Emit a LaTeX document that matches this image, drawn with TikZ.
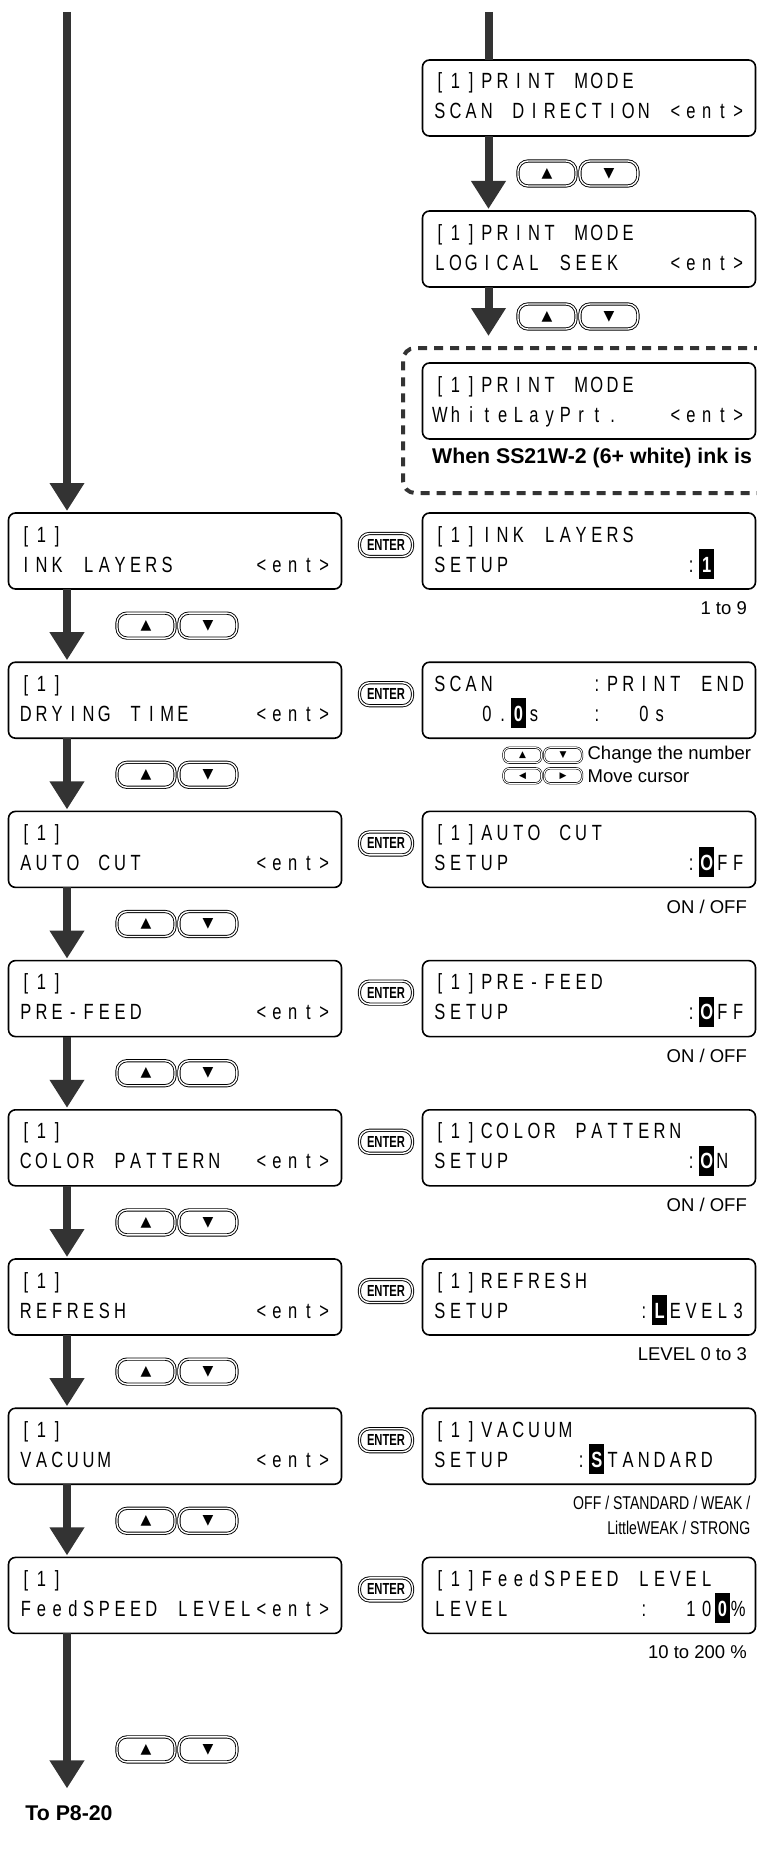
\documentclass[tikz,border=0pt]{standalone}
\usepackage{fontspec}
\setmainfont{Liberation Sans}
\newfontfamily\lcdfont[FakeStretch=0.75]{Liberation Sans}
\newfontfamily\keyfont[FakeStretch=0.7]{Liberation Sans}
\newfontfamily\narrowfont[FakeStretch=0.76]{Liberation Sans}
\newfontfamily\symfont{DejaVu Sans}
\usetikzlibrary{positioning,arrows.meta,fit,calc}

% one LCD character cell, and a cell with the cursor on it
\newlength\lcdw
\setlength\lcdw{15.7pt}
\newcommand\lcdcell[1]{\makebox[\lcdw][c]{#1}}
\newcommand\lcdhl[1]{\makebox[\lcdw][c]{\smash{\makebox[0pt]{\rule[-7pt]{15pt}{30pt}}}\makebox[0pt]{\color{white}\bfseries#1}}}
% a run of cells, _ is an empty cell
\ExplSyntaxOn
\NewDocumentCommand\lcd{m}
  {
    \strut
    \str_map_inline:nn {#1}
      { \str_if_eq:nnTF {##1} {_} { \lcdcell{} } { \lcdcell{##1} } }
  }
\ExplSyntaxOff

\begin{document}
\begin{tikzpicture}[
    x=1pt, y=1pt,
    node distance=73.2pt and 81pt,
    lcdbox/.style={
        draw,
        rounded corners=7pt,
        line width=1.6pt,
        outer sep=0pt,
        minimum width=333pt,
        minimum height=76pt,
        text width=314pt,
        inner sep=0pt,
        align=left,
        font=\lcdfont\fontsize{22}{30}\selectfont
    },
    flow/.style={
        draw=black!80,
        line width=8pt,
        -{Triangle[width=33pt,length=28pt]},
        shorten >=2pt
    },
    updown/.style={
        draw,
        double,
        double distance=1.4pt,
        line width=0.9pt,
        rounded corners=10pt,
        minimum width=58pt,
        minimum height=25pt,
        inner sep=0pt,
        font=\symfont\fontsize{14}{14}\selectfont
    },
    smallkey/.style={
        updown,
        double distance=1pt,
        line width=0.6pt,
        rounded corners=6pt,
        minimum width=38pt,
        minimum height=15pt,
        font=\symfont\fontsize{9}{9}\selectfont
    },
    enterkey/.style={
        updown,
        minimum width=53pt,
        minimum height=23pt,
        font=\keyfont\bfseries\fontsize{16}{16}\selectfont
    },
    note/.style={
        inner sep=0pt,
        align=right,
        font=\fontsize{18.5}{25}\selectfont
    },
    warn/.style={
        inner sep=0pt,
        font=\bfseries\fontsize{21.3}{24}\selectfont
    },
    whiteframe/.style={
        draw=black!80,
        line width=4pt,
        dash pattern=on 9pt off 7pt,
        rounded corners=12pt
    }
]
    \useasboundingbox (0,0) rectangle (757,-1854);
    \clip (0,0) rectangle (757,-1854);

    % --- Left Column: Menu Items ---
    \node [lcdbox] (ink) at (175,-551) {\lcd{[1]}\\\lcd{INK LAYERS_____<ent>}};
    \node [lcdbox, below=of ink] (dry) {\lcd{[1]}\\\lcd{DRYING TIME____<ent>}};
    \node [lcdbox, below=of dry] (cut) {\lcd{[1]}\\\lcd{AUTO CUT_______<ent>}};
    \node [lcdbox, below=of cut] (prefeed) {\lcd{[1]}\\\lcd{PRE-FEED_______<ent>}};
    \node [lcdbox, below=of prefeed] (color) {\lcd{[1]}\\\lcd{COLOR PATTERN__<ent>}};
    \node [lcdbox, below=of color] (refresh) {\lcd{[1]}\\\lcd{REFRESH________<ent>}};
    \node [lcdbox, below=of refresh] (vacuum) {\lcd{[1]}\\\lcd{VACUUM_________<ent>}};
    \node [lcdbox, below=of vacuum] (speed) {\lcd{[1]}\\\lcd{FeedSPEED LEVEL<ent>}};

    % --- Right Column: Print Mode Items ---
    \node [lcdbox, right=of ink] (inkset) {\lcd{[1]INK LAYERS}\\\lcd{SETUP___________:}\lcdhl{1}};
    \node [lcdbox, above=74pt of inkset] (pmwhite) {\lcd{[1]PRINT MODE}\\\lcd{WhiteLayPrt.___<ent>}};
    \node [lcdbox, above=76pt of pmwhite] (pmseek) {\lcd{[1]PRINT MODE}\\\lcd{LOGICAL SEEK___<ent>}};
    \node [lcdbox, above=75pt of pmseek] (pmscan) {\lcd{[1]PRINT MODE}\\\lcd{SCAN DIRECTION <ent>}};

    % --- Right Column: Setup Screens ---
    \node [lcdbox, right=of dry] (dryset) {\lcd{SCAN______:PRINT END}\\\lcd{___0.}\lcdhl{0}\lcd{s___:__0s}};
    \node [lcdbox, right=of cut] (cutset) {\lcd{[1]AUTO CUT}\\\lcd{SETUP___________:}\lcdhl{O}\lcd{FF}};
    \node [lcdbox, right=of prefeed] (prefeedset) {\lcd{[1]PRE-FEED}\\\lcd{SETUP___________:}\lcdhl{O}\lcd{FF}};
    \node [lcdbox, right=of color] (colorset) {\lcd{[1]COLOR PATTERN}\\\lcd{SETUP___________:}\lcdhl{O}\lcd{N}};
    \node [lcdbox, right=of refresh] (refreshset) {\lcd{[1]REFRESH}\\\lcd{SETUP________:}\lcdhl{L}\lcd{EVEL3}};
    \node [lcdbox, right=of vacuum] (vacuumset) {\lcd{[1]VACUUM}\\\lcd{SETUP____:}\lcdhl{S}\lcd{TANDARD}};
    \node [lcdbox, right=of speed] (speedset) {\lcd{[1]FeedSPEED LEVEL}\\\lcd{LEVEL________:__10}\lcdhl{0}\lcdcell{\%}};

    % White ink only
    \coordinate [below=39pt of pmwhite.south] (wbot);
    \node [whiteframe, fit=(pmwhite)(wbot), inner xsep=19.5pt, inner ysep=15pt] (wframe) {};
    \node [warn, anchor=base west] (wnote) at ([shift={(9.5pt,-24pt)}]pmwhite.south west) {When SS21W-2 (6+ white) ink is};

    % --- ENTER Keys ---
    \node [enterkey, xshift=4pt, yshift=6pt] (ent1) at ($(ink.east)!.5!(inkset.west)$) {ENTER};
    \node [enterkey, xshift=4pt, yshift=6pt] (ent2) at ($(dry.east)!.5!(dryset.west)$) {ENTER};
    \node [enterkey, xshift=4pt, yshift=6pt] (ent3) at ($(cut.east)!.5!(cutset.west)$) {ENTER};
    \node [enterkey, xshift=4pt, yshift=6pt] (ent4) at ($(prefeed.east)!.5!(prefeedset.west)$) {ENTER};
    \node [enterkey, xshift=4pt, yshift=6pt] (ent5) at ($(color.east)!.5!(colorset.west)$) {ENTER};
    \node [enterkey, xshift=4pt, yshift=6pt] (ent6) at ($(refresh.east)!.5!(refreshset.west)$) {ENTER};
    \node [enterkey, xshift=4pt, yshift=6pt] (ent7) at ($(vacuum.east)!.5!(vacuumset.west)$) {ENTER};
    \node [enterkey, xshift=4pt, yshift=6pt] (ent8) at ($(speed.east)!.5!(speedset.west)$) {ENTER};

    % --- Value Ranges ---
    \node [note, anchor=north east] (inknote) at ([shift={(-8.5pt,-12pt)}]inkset.south east) {1 to 9};
    \node [smallkey] (chup) at ([shift={(100pt,-17pt)}]dryset.south west) {▲};
    \node [smallkey, right=2pt of chup] (chdown) {▼};
    \node [note, right=5pt of chdown] (chtext) {Change the number};
    \node [smallkey, below=5pt of chup] (mvleft) {◀};
    \node [smallkey, right=2pt of mvleft] (mvright) {▶};
    \node [note, right=5pt of mvright] (mvtext) {Move cursor};
    \node [note, anchor=north east] (cutnote) at ([shift={(-8.5pt,-12pt)}]cutset.south east) {ON / OFF};
    \node [note, anchor=north east] (prefeednote) at ([shift={(-8.5pt,-12pt)}]prefeedset.south east) {ON / OFF};
    \node [note, anchor=north east] (colornote) at ([shift={(-8.5pt,-12pt)}]colorset.south east) {ON / OFF};
    \node [note, anchor=north east] (refreshnote) at ([shift={(-8.5pt,-12pt)}]refreshset.south east) {LEVEL 0 to 3};
    \node [note, anchor=north east, font=\narrowfont\fontsize{18.5}{25}\selectfont] (vacuumnote) at ([shift={(-5pt,-12pt)}]vacuumset.south east) {OFF / STANDARD / WEAK /\\LittleWEAK / STRONG};
    \node [note, anchor=north east] (speednote) at ([shift={(-8.5pt,-12pt)}]speedset.south east) {10 to 200 \%};

    % --- Connections: Right Column ---
    \coordinate (rtop) at (488.5,-12);
    \coordinate (rseek) at ([xshift=66pt]pmseek.south west);
    \draw [draw=black!80, line width=8pt] (rtop) -- ([xshift=66pt]pmscan.north west);
    \draw [flow] ([xshift=66pt]pmscan.south west) -- ([xshift=66pt]pmseek.north west);
    \draw [flow, shorten >=10pt] (rseek) -- (rseek |- wframe.north);
    \node [updown, xshift=124.5pt] (up1r) at ($(pmscan.south west)!.5!(pmseek.north west)$) {▲};
    \node [updown, right=3pt of up1r] (down1r) {▼};
    \node [updown, xshift=124.5pt] (up2r) at ($(pmseek.south west)!.5!(pmseek.south west |- wframe.north)$) {▲};
    \node [updown, right=3pt of up2r] (down2r) {▼};

    % --- Connections: Left Column ---
    \coordinate (ltop) at (67,-12);
    \coordinate (lend) at ([shift={(58.5pt,-155pt)}]speed.south west);
    \draw [flow] (ltop) -- ([xshift=58.5pt]ink.north west);
    \draw [flow] ([xshift=58.5pt]ink.south west) -- ([xshift=58.5pt]dry.north west);
    \draw [flow] ([xshift=58.5pt]dry.south west) -- ([xshift=58.5pt]cut.north west);
    \draw [flow] ([xshift=58.5pt]cut.south west) -- ([xshift=58.5pt]prefeed.north west);
    \draw [flow] ([xshift=58.5pt]prefeed.south west) -- ([xshift=58.5pt]color.north west);
    \draw [flow] ([xshift=58.5pt]color.south west) -- ([xshift=58.5pt]refresh.north west);
    \draw [flow] ([xshift=58.5pt]refresh.south west) -- ([xshift=58.5pt]vacuum.north west);
    \draw [flow] ([xshift=58.5pt]vacuum.south west) -- ([xshift=58.5pt]speed.north west);
    \draw [flow, shorten >=0pt] ([xshift=58.5pt]speed.south west) -- (lend);

    \node [updown, xshift=137.5pt] (up1) at ($(ink.south west)!.5!(dry.north west)$) {▲};
    \node [updown, right=3pt of up1] (down1) {▼};
    \node [updown, xshift=137.5pt] (up2) at ($(dry.south west)!.5!(cut.north west)$) {▲};
    \node [updown, right=3pt of up2] (down2) {▼};
    \node [updown, xshift=137.5pt] (up3) at ($(cut.south west)!.5!(prefeed.north west)$) {▲};
    \node [updown, right=3pt of up3] (down3) {▼};
    \node [updown, xshift=137.5pt] (up4) at ($(prefeed.south west)!.5!(color.north west)$) {▲};
    \node [updown, right=3pt of up4] (down4) {▼};
    \node [updown, xshift=137.5pt] (up5) at ($(color.south west)!.5!(refresh.north west)$) {▲};
    \node [updown, right=3pt of up5] (down5) {▼};
    \node [updown, xshift=137.5pt] (up6) at ($(refresh.south west)!.5!(vacuum.north west)$) {▲};
    \node [updown, right=3pt of up6] (down6) {▼};
    \node [updown, xshift=137.5pt] (up7) at ($(vacuum.south west)!.5!(speed.north west)$) {▲};
    \node [updown, right=3pt of up7] (down7) {▼};
    \node [updown, xshift=137.5pt] (up8) at ([yshift=-116pt]speed.south west) {▲};
    \node [updown, right=3pt of up8] (down8) {▼};

    % Next page
    \node [warn, below=17pt of lend, xshift=2pt] (topage) {To P8-20};

\end{tikzpicture}
\end{document}
